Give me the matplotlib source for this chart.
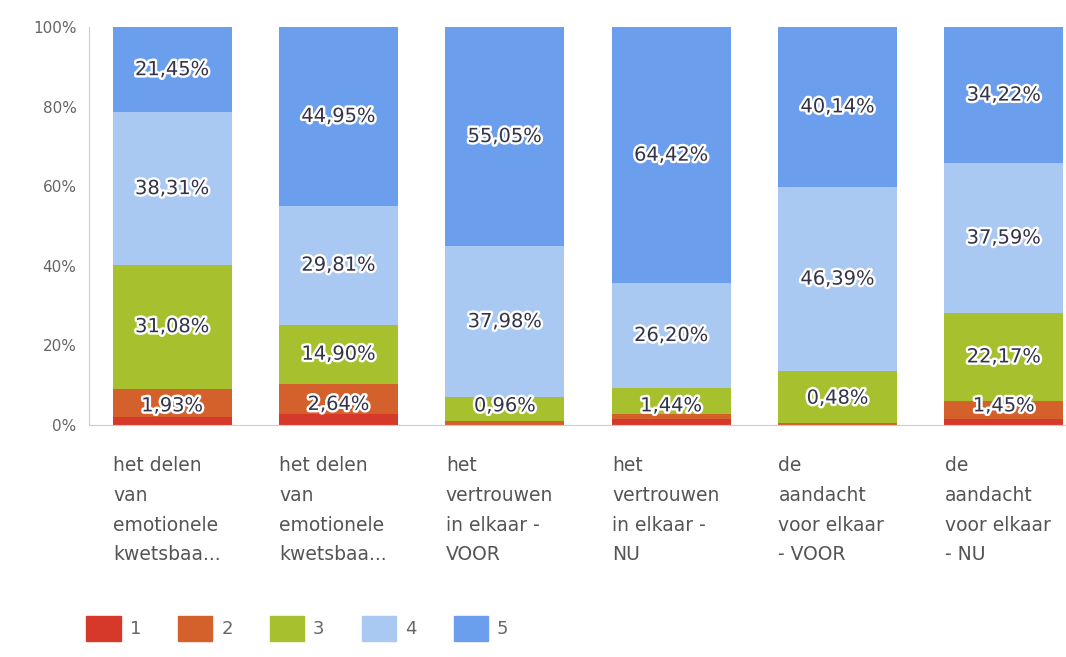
import matplotlib.pyplot as plt
import matplotlib.patheffects as pe
from matplotlib.patches import Patch

# categories (x labels, already wrapped as in the chart)
categories = [
    "het delen\nvan\nemotionele\nkwetsbaa...",
    "het delen\nvan\nemotionele\nkwetsbaa...",
    "het\nvertrouwen\nin elkaar -\nVOOR",
    "het\nvertrouwen\nin elkaar -\nNU",
    "de\naandacht\nvoor elkaar\n- VOOR",
    "de\naandacht\nvoor elkaar\n- NU",
]

# percentages per answer (1..5)
s1 = [1.93, 2.64, 0.00, 1.44, 0.00, 1.45]
s2 = [7.23, 7.70, 0.96, 1.44, 0.48, 4.57]
s3 = [31.08, 14.90, 6.01, 6.50, 12.99, 22.17]
s4 = [38.31, 29.81, 37.98, 26.20, 46.39, 37.59]
s5 = [21.45, 44.95, 55.05, 64.42, 40.14, 34.22]

# small bottom segments: only one label is readable in the chart
bottom_labels = ["1,93%", "2,64%", "0,96%", "1,44%", "0,48%", "1,45%"]
# green label hidden behind the bottom label in these bars
green_hidden = [False, False, True, True, True, False]

series = [s1, s2, s3, s4, s5]
names = ["1", "2", "3", "4", "5"]
colors = ["#d6392a", "#d4602c", "#a7c12e", "#a9c8f2", "#6b9fee"]


def pct(v):
    return f"{v:.2f}%".replace(".", ",")


fig = plt.figure(figsize=(10.66, 6.57), dpi=100)
ax = fig.add_axes([89 / 1066, 1 - 425 / 657, 998 / 1066, 398 / 657])

x = list(range(len(categories)))
bottom = [0.0] * len(x)
for vals, col, name in zip(series, colors, names):
    ax.bar(x, vals, bottom=bottom, width=0.715, color=col, label=name, zorder=2)
    bottom = [b + v for b, v in zip(bottom, vals)]

stroke = [pe.withStroke(linewidth=3.5, foreground="white")]
txt = dict(ha="center", va="center", fontsize=14, color="#33334a",
           path_effects=stroke, zorder=5)

base = [a + b for a, b in zip(s1, s2)]
for i in x:
    low = base[i]
    if not green_hidden[i]:
        ax.text(i, low + s3[i] / 2, pct(s3[i]), **txt)
        yb = max(low / 2, 4.8)
    else:
        yb = max((low + s3[i]) / 2, 4.8)
    ax.text(i, low + s3[i] + s4[i] / 2, pct(s4[i]), **txt)
    ax.text(i, low + s3[i] + s4[i] + s5[i] / 2, pct(s5[i]), **txt)
    ax.text(i, yb, bottom_labels[i], **txt)

ax.set_xlim(-0.5, 5.5)
ax.set_ylim(0, 100)
ax.set_yticks([0, 20, 40, 60, 80, 100])
ax.set_yticklabels(["0%", "20%", "40%", "60%", "80%", "100%"])
ax.tick_params(axis="y", length=0, pad=9, labelsize=11, labelcolor="#666666")
ax.tick_params(axis="x", length=0, labelbottom=False)
for side in ["top", "right"]:
    ax.spines[side].set_visible(False)
ax.spines["left"].set_color("#cccccc")
ax.spines["bottom"].set_color("#cccccc")

# category labels, left aligned under each bar
for i, lab in enumerate(categories):
    ax.text(i - 0.355, -7.8, lab, ha="left", va="top", fontsize=13.5,
            color="#555555", linespacing=1.72)

handles = [Patch(facecolor=c, edgecolor=c) for c in colors]
fig.legend(handles, names, loc="lower left", bbox_to_anchor=(70 / 1066, 0.0),
           ncol=5, frameon=False, fontsize=13, handlelength=1.9, handleheight=1.7,
           columnspacing=2.05, handletextpad=0.5, labelcolor="#666666")

fig.savefig("out.png", dpi=100)
